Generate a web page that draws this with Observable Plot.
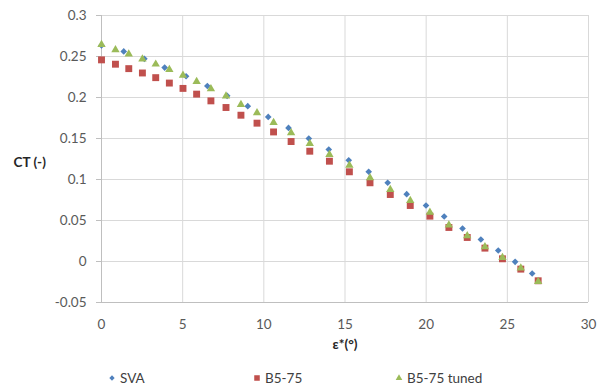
<!DOCTYPE html>
<html><head><meta charset="utf-8">
<script src="https://cdn.jsdelivr.net/npm/d3@7"></script>
<script src="https://cdn.jsdelivr.net/npm/@observablehq/plot@0.6"></script>
<style>
body{margin:0;background:#fff;font-family:Lato,"Open Sans",sans-serif;}
#chart svg{display:block;}
#legend{position:relative;width:598px;height:30px;font-size:13.5px;color:#404040;}
#legend .item{position:absolute;top:10px;display:flex;align-items:center;white-space:nowrap;}
#legend .item svg{margin-right:3px;}
</style>
</head><body>
<div id="chart"></div>
<div id="legend"></div>
<script>
// ---- data ----
const seriesNames = ["SVA", "B5-75", "B5-75 tuned"];
const svaX = [0, 1.37, 2.64, 3.89, 5.21, 6.52, 7.74, 9.01, 10.27, 11.52, 12.77, 14.0, 15.23, 16.46, 17.63, 18.80, 19.99, 21.11, 22.24, 23.37, 24.44, 25.48, 26.53];
const svaY = [0.2635, 0.2562, 0.2472, 0.2365, 0.2259, 0.2140, 0.2020, 0.1894, 0.1763, 0.1629, 0.1500, 0.1366, 0.1235, 0.1094, 0.0960, 0.0821, 0.0683, 0.0549, 0.0402, 0.0268, 0.0134, -0.0004, -0.0146];
const b575X = [0, 0.86, 1.68, 2.52, 3.34, 4.18, 5.02, 5.86, 6.74, 7.67, 8.59, 9.58, 10.6, 11.68, 12.83, 14.04, 15.27, 16.54, 17.79, 19.02, 20.23, 21.40, 22.53, 23.62, 24.70, 25.83, 26.9];
const b575Y = [0.2459, 0.2406, 0.2352, 0.2299, 0.2242, 0.2176, 0.2111, 0.2041, 0.1959, 0.1878, 0.1784, 0.1687, 0.1580, 0.1463, 0.1345, 0.1223, 0.1094, 0.0960, 0.0817, 0.0683, 0.0553, 0.0415, 0.0293, 0.0163, 0.0033, -0.0093, -0.0235];
const tunedX = [0, 0.86, 1.68, 2.52, 3.34, 4.18, 5.02, 5.86, 6.74, 7.67, 8.59, 9.58, 10.6, 11.68, 12.83, 14.04, 15.27, 16.54, 17.79, 19.02, 20.23, 21.40, 22.53, 23.62, 24.70, 25.83, 26.9];
const tunedY = [0.2644, 0.2582, 0.2529, 0.2468, 0.2406, 0.2340, 0.2271, 0.2193, 0.2106, 0.2016, 0.1915, 0.1812, 0.1695, 0.1568, 0.1439, 0.1305, 0.1174, 0.1021, 0.0878, 0.0744, 0.0601, 0.0444, 0.0313, 0.0179, 0.0049, -0.0080, -0.0245];
const xTicks = [0, 5, 10, 15, 20, 25, 30];
const yTicks = [-0.05, 0, 0.05, 0.1, 0.15, 0.2, 0.25, 0.3];
const yTickLabels = ["-0.05", "0", "0.05", "0.1", "0.15", "0.2", "0.25", "0.3"];
const xLabel = "ε*(°)";
const yLabel = "CT (-)";

// ---- styles ----
const colors = ["#4f81bd", "#c0504d", "#9bbb59"];
const symbols = ["diamond2", "square", "triangle"];
const radii = [3.0, 3.9, 3.1];

const toRows = (xs, ys) => xs.map((x, i) => ({x, y: ys[i]}));
const seriesData = [toRows(svaX, svaY), toRows(b575X, b575Y), toRows(tunedX, tunedY)];

const fontFam = 'Lato, "Open Sans", sans-serif';
const plot = Plot.plot({
  width: 598,
  height: 360,
  marginLeft: 101,
  marginRight: 10,
  marginTop: 15,
  marginBottom: 58,
  style: {fontFamily: fontFam, fontSize: "13.5px", color: "#595959", background: "#fff"},
  x: {domain: [0, 30]},
  y: {domain: [-0.05, 0.3]},
  marks: [
    Plot.gridX(xTicks, {stroke: "#d9d9d9", strokeOpacity: 1}),
    Plot.gridY(yTicks, {stroke: "#d9d9d9", strokeOpacity: 1}),
    Plot.ruleX([0], {stroke: "#bfbfbf"}),
    Plot.ruleY([-0.05], {stroke: "#bfbfbf"}),
    Plot.axisY({ticks: yTicks, tickFormat: (d, i) => yTickLabels[i], tickSize: 5, tickPadding: 10, stroke: "#bfbfbf", label: null, fill: "#595959"}),
    Plot.axisX({ticks: xTicks, tickSize: 0, tickPadding: 17, label: null, fill: "#595959"}),
    ...seriesData.map((d, i) => Plot.dot(d, {x: "x", y: "y", symbol: () => symbols[i], fill: colors[i], stroke: "none", r: radii[i]})),
    Plot.text([yLabel], {frameAnchor: "left", dx: -88, dy: 4, textAnchor: "start", fontWeight: "bold", fontSize: 13.5, fill: "#262626"}),
    Plot.text([xLabel], {frameAnchor: "bottom", dy: 46, fontWeight: "bold", fontSize: 13.5, fill: "#262626"})
  ]
});
document.getElementById("chart").appendChild(plot);

// ---- legend ----
const legendLeft = [107, 252, 394];
const legend = d3.select("#legend");
seriesNames.forEach((name, i) => {
  const item = legend.append("div").attr("class", "item").style("left", legendLeft[i] + "px");
  const s = item.append("svg").attr("width", 10).attr("height", 10);
  const symMap = {diamond2: d3.symbolDiamond2, square: d3.symbolSquare, triangle: d3.symbolTriangle};
  s.append("path")
    .attr("transform", "translate(5,5)")
    .attr("d", d3.symbol(symMap[symbols[i]], Math.PI * (radii[i] * 0.8) ** 2)())
    .attr("fill", colors[i]);
  item.append("span").text(name);
});
</script>
</body></html>
